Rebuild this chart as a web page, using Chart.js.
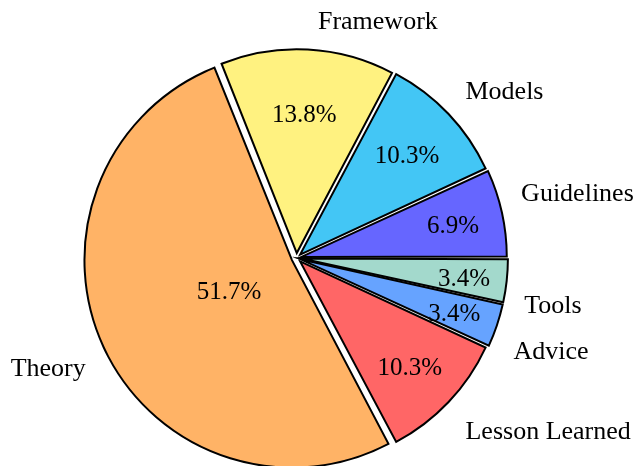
<!DOCTYPE html>
<html>
<head>
<meta charset="utf-8">
<script src="https://cdn.jsdelivr.net/npm/chart.js@4"></script>
<style>
    body { margin: 0; background: #fff; }
    #caixa { width: 636px; height: 466px; }
</style>
</head>
<body>
<div id="caixa"><canvas id="grafico"></canvas></div>
<script>
// Categorias e contagens, na ordem em que o Chart.js desenha (sentido horário a partir das 3h)
const categorias = ['Tools', 'Advice', 'Lesson Learned', 'Theory', 'Framework', 'Models', 'Guidelines'];
const contagens = [1, 1, 3, 15, 4, 3, 2];
const cores = ['#a3d9cc', '#66a3ff', '#ff6666', '#ffb366', '#fff280', '#43c6f5', '#6666ff'];

// Ajustes de estilo dos textos (distância do percentual e deslocamento do rótulo)
const distPercentual = [0.80, 0.79, 0.74, 0.34, 0.69, 0.72, 0.76];
const ajusteRotulo = [[-1, 23], [-1, 21], [2, 16], [-2, 15], [9, -6], [2, -8], [0, -14]];
const deslocamento = 5;
const fonteRotulo = '26px "Liberation Serif", "Times New Roman", serif';
const fontePercentual = '25px "Liberation Serif", "Times New Roman", serif';

window.onload = () => {
    apresentarGrafico();
}

function apresentarGrafico() {
    const total = contagens.reduce((a, b) => a + b, 0);

    const rotulos = {
        id: 'rotulos',
        afterDatasetsDraw(chart) {
            const ctx = chart.ctx;
            const arcos = chart.getDatasetMeta(0).data;
            ctx.save();
            ctx.fillStyle = '#000';
            ctx.textBaseline = 'middle';
            arcos.forEach((arco, i) => {
                const meio = (arco.startAngle + arco.endAngle) / 2;
                const cos = Math.cos(meio), sen = Math.sin(meio);
                const cx = arco.x + cos * 4.5;
                const cy = arco.y + sen * 4.5;
                const r = 205;

                // percentual dentro da fatia
                const pct = (contagens[i] / total * 100).toFixed(1) + '%';
                ctx.font = fontePercentual;
                ctx.textAlign = 'center';
                ctx.fillText(pct, cx + cos * distPercentual[i] * r, cy + sen * distPercentual[i] * r + 3);

                // nome da categoria fora da fatia
                ctx.font = fonteRotulo;
                ctx.textAlign = cos >= 0 ? 'left' : 'right';
                ctx.fillText(categorias[i],
                    cx + cos * 1.1 * r + ajusteRotulo[i][0],
                    cy + sen * 1.1 * r + ajusteRotulo[i][1]);
            });
            ctx.restore();
        }
    };

    const contexto = document.getElementById('grafico');
    new Chart(contexto, {
        type: 'pie',
        data: {
            labels: categorias,
            datasets: [{
                data: contagens,
                backgroundColor: cores,
                borderColor: '#000',
                borderWidth: 2,
                borderJoinStyle: 'miter',
                // o Chart.js afasta cada fatia offset/4 px do centro
                offset: deslocamento * 4,
                hoverOffset: 0
            }]
        },
        options: {
            responsive: true,
            maintainAspectRatio: false,
            animation: false,
            events: [],
            rotation: 90,
            radius: 202.5,
            layout: {
                padding: { left: 0, right: 43, top: 50, bottom: 0 }
            },
            plugins: {
                legend: { display: false },
                tooltip: { enabled: false }
            }
        },
        plugins: [rotulos]
    });
}
</script>
</body>
</html>
